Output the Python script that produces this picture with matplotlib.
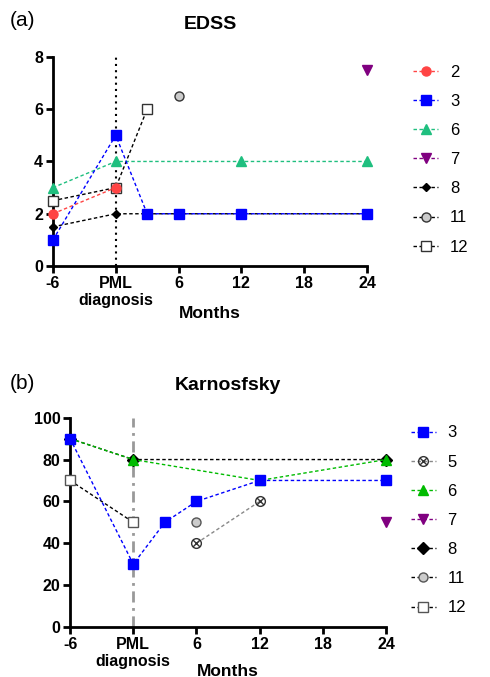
import matplotlib.pyplot as plt
import numpy as np
from matplotlib.path import Path

plt.rcParams["font.family"] = ["Liberation Sans", "DejaVu Sans"]

# EDSS data (months, score)
edss_2_x = [-6, 0]
edss_2_y = [2, 3]
edss_3_x = [-6, 0, 3, 6, 12, 24]
edss_3_y = [1, 5, 2, 2, 2, 2]
edss_6_x = [-6, 0, 12, 24]
edss_6_y = [3, 4, 4, 4]
edss_7_x = [24]
edss_7_y = [7.5]
edss_8_x = [-6, 0, 3, 6, 12, 24]
edss_8_y = [1.5, 2, 2, 2, 2, 2]
edss_11_x = [6]
edss_11_y = [6.5]
edss_12_x = [-6, 0, 3]
edss_12_y = [2.5, 3, 6]

# Karnofsky data
kps_3_x = [-6, 0, 3, 6, 12, 24]
kps_3_y = [90, 30, 50, 60, 70, 70]
kps_5_x = [6, 12]
kps_5_y = [40, 60]
kps_6_x = [-6, 0, 12, 24]
kps_6_y = [90, 80, 70, 80]
kps_7_x = [24]
kps_7_y = [50]
kps_8_x = [-6, 0, 24]
kps_8_y = [90, 80, 80]
kps_11_x = [6]
kps_11_y = [50]
kps_12_x = [-6, 0]
kps_12_y = [70, 50]

x_ticks = [-6, 0, 6, 12, 18, 24]
x_ticklabels = ["-6", "PML\ndiagnosis", "6", "12", "18", "24"]

# circle with a cross inside
circ = Path.unit_circle()
cross = Path([(-0.7, -0.7), (0.7, 0.7), (-0.7, 0.7), (0.7, -0.7)],
             [Path.MOVETO, Path.LINETO, Path.MOVETO, Path.LINETO])
otimes = Path.make_compound_path(circ, cross)

dash = (0, (2.5, 1.8))


def style_axes(ax, ylim, yticks, label_y):
    ax.set_xlim(-6, 24)
    ax.set_ylim(*ylim)
    ax.set_xticks(x_ticks)
    ax.set_xticklabels(x_ticklabels)
    ax.set_yticks(yticks)
    for lab in ax.get_xticklabels() + ax.get_yticklabels():
        lab.set_fontweight("bold")
        lab.set_fontsize(11.5)
    ax.spines["top"].set_visible(False)
    ax.spines["right"].set_visible(False)
    ax.spines["left"].set_linewidth(2)
    ax.spines["bottom"].set_linewidth(2)
    ax.tick_params(width=2, length=5, direction="out", pad=2)
    ax.set_xlabel("Months", fontsize=12.5, fontweight="bold")
    ax.xaxis.set_label_coords(0.5, label_y)
    for sp in ax.spines.values():
        sp.set_clip_on(False)


fig = plt.figure(figsize=(4.9, 6.77), dpi=100)

# Panel (a)
ax1 = fig.add_axes([0.108, 0.607, 0.641, 0.309])
ax1.axvline(0, color="black", linestyle=(0, (1, 2)), linewidth=1.5, zorder=1)
ax1.plot(edss_2_x, edss_2_y, linestyle=dash, lw=1, color="#ff4444", marker="o",
         ms=6.5, mfc="#ff4444", mec="#ff4444", label="2", clip_on=False, zorder=4)
ax1.plot(edss_12_x, edss_12_y, linestyle=dash, lw=1, color="black", marker="s",
         ms=6.5, mfc="white", mec="#333333", label="12", clip_on=False, zorder=3)
ax1.plot(edss_8_x, edss_8_y, linestyle=dash, lw=1, color="black", marker="D",
         ms=4, mfc="black", mec="black", label="8", clip_on=False, zorder=3)
ax1.plot(edss_6_x, edss_6_y, linestyle=dash, lw=1, color="#1fbf7f", marker="^",
         ms=6.5, mfc="#1fbf7f", mec="#1fbf7f", label="6", clip_on=False, zorder=4)
ax1.plot(edss_3_x, edss_3_y, linestyle=dash, lw=1, color="#0000ff", marker="s",
         ms=6.5, mfc="#0000ff", mec="#0000ff", label="3", clip_on=False, zorder=5)
ax1.plot(edss_7_x, edss_7_y, linestyle=dash, lw=1, color="#800080", marker="v",
         ms=6.5, mfc="#800080", mec="#800080", label="7", clip_on=False, zorder=4)
ax1.plot(edss_11_x, edss_11_y, linestyle=dash, lw=1, color="black", marker="o",
         ms=6.5, mfc="#cccccc", mec="#333333", label="11", clip_on=False, zorder=4)
style_axes(ax1, (0, 8), [0, 2, 4, 6, 8], -0.19)
ax1.set_title("EDSS", fontsize=14, fontweight="bold", pad=20)
h, l = ax1.get_legend_handles_labels()
order = ["2", "3", "6", "7", "8", "11", "12"]
hh = [h[l.index(o)] for o in order]
ax1.legend(hh, order, loc="upper left", bbox_to_anchor=(1.1, 1.035), frameon=False,
           fontsize=12, handlelength=1.5, handletextpad=0.7, labelspacing=0.85)
fig.text(0.02, 0.962, "(a)", fontsize=15)

# Panel (b)
ax2 = fig.add_axes([0.143, 0.074, 0.645, 0.309])
ax2.axvline(0, color="#999999", linestyle=(0, (4, 2, 1, 2)), linewidth=2, zorder=1)
ax2.plot(kps_12_x, kps_12_y, linestyle=dash, lw=1, color="black", marker="s",
         ms=6.5, mfc="white", mec="#555555", label="12", clip_on=False, zorder=3)
ax2.plot(kps_5_x, kps_5_y, linestyle=dash, lw=1, color="#888888", marker=otimes,
         ms=7, mfc="none", mec="#333333", label="5", clip_on=False, zorder=3)
ax2.plot(kps_8_x, kps_8_y, linestyle=dash, lw=1, color="black", marker="D",
         ms=6.5, mfc="black", mec="black", label="8", clip_on=False, zorder=3)
ax2.plot(kps_6_x, kps_6_y, linestyle=dash, lw=1, color="#00bb00", marker="^",
         ms=6.5, mfc="#00bb00", mec="#00bb00", label="6", clip_on=False, zorder=4)
ax2.plot(kps_3_x, kps_3_y, linestyle=dash, lw=1, color="#0000ff", marker="s",
         ms=6.5, mfc="#0000ff", mec="#0000ff", label="3", clip_on=False, zorder=5)
ax2.plot(kps_7_x, kps_7_y, linestyle=dash, lw=1, color="#800080", marker="v",
         ms=6.5, mfc="#800080", mec="#800080", label="7", clip_on=False, zorder=4)
ax2.plot(kps_11_x, kps_11_y, linestyle=dash, lw=1, color="black", marker="o",
         ms=6.5, mfc="#cccccc", mec="#555555", label="11", clip_on=False, zorder=4)
style_axes(ax2, (0, 100), [0, 20, 40, 60, 80, 100], -0.175)
ax2.set_title("Karnosfsky", fontsize=14, fontweight="bold", pad=20)
h, l = ax2.get_legend_handles_labels()
order = ["3", "5", "6", "7", "8", "11", "12"]
hh = [h[l.index(o)] for o in order]
ax2.legend(hh, order, loc="upper left", bbox_to_anchor=(1.03, 1.035), frameon=False,
           fontsize=12, handlelength=1.5, handletextpad=0.7, labelspacing=0.85)
fig.text(0.02, 0.425, "(b)", fontsize=15)

fig.savefig("out.png", dpi=100)
